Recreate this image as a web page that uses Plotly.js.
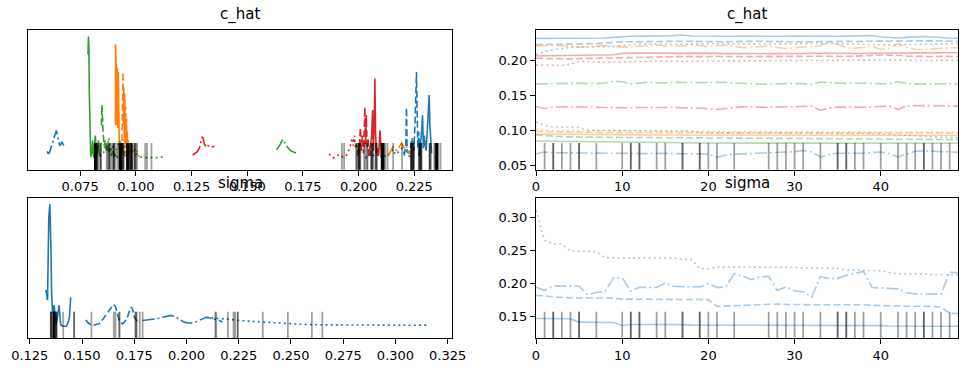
<!DOCTYPE html>
<html><head><meta charset="utf-8">
<script src="https://cdn.plot.ly/plotly-3.0.1.min.js"></script>
<style>html,body{margin:0;padding:0;background:#fff}#chart{width:968px;height:372px}</style>
</head><body><div id="chart"></div>
<script>
// ---------- panel titles ----------
const varNames = ['c_hat', 'sigma'];

// ---------- trace values (50 draws per chain) ----------
// c_hat[0] (blue)
const tr_c0_ch0 = [0.2320,0.2320,0.2318,0.2318,0.2320,0.2320,0.2320,0.2322,0.2325,0.2335,0.2345,0.2350,0.2352,0.2350,0.2352,0.2355,0.2360,0.2368,0.2355,0.2352,0.2350,0.2350,0.2352,0.2350,0.2352,0.2350,0.2352,0.2355,0.2352,0.2350,0.2352,0.2350,0.2352,0.2350,0.2352,0.2350,0.2352,0.2355,0.2358,0.2362,0.2340,0.2330,0.2325,0.2335,0.2345,0.2348,0.2340,0.2330,0.2325,0.2322];
const tr_c0_ch1 = [0.2230,0.2232,0.2235,0.2235,0.2235,0.2238,0.2240,0.2245,0.2255,0.2265,0.2270,0.2272,0.2275,0.2275,0.2278,0.2275,0.2278,0.2280,0.2278,0.2275,0.2272,0.2270,0.2272,0.2275,0.2278,0.2282,0.2280,0.2275,0.2272,0.2270,0.2268,0.2270,0.2272,0.2275,0.2278,0.2280,0.2278,0.2275,0.2280,0.2285,0.2282,0.2280,0.2278,0.2282,0.2285,0.2288,0.2285,0.2282,0.2280,0.2278];
const tr_c0_ch2 = [0.2085,0.2130,0.2155,0.2175,0.2190,0.2195,0.2195,0.2198,0.2200,0.2205,0.2220,0.2235,0.2240,0.2240,0.2238,0.2240,0.2242,0.2240,0.2238,0.2240,0.2245,0.2248,0.2245,0.2242,0.2240,0.2238,0.2235,0.2238,0.2240,0.2242,0.2245,0.2248,0.2250,0.2252,0.2250,0.2245,0.2240,0.2235,0.2232,0.2230,0.2228,0.2225,0.2228,0.2232,0.2235,0.2238,0.2240,0.2242,0.2245,0.2245];
const tr_c0_ch3 = [0.0665,0.0690,0.0680,0.0678,0.0680,0.0675,0.0672,0.0670,0.0672,0.0668,0.0665,0.0668,0.0670,0.0668,0.0672,0.0670,0.0668,0.0670,0.0668,0.0665,0.0660,0.0618,0.0645,0.0660,0.0665,0.0668,0.0670,0.0672,0.0675,0.0680,0.0695,0.0712,0.0690,0.0620,0.0655,0.0672,0.0670,0.0668,0.0672,0.0685,0.0690,0.0670,0.0620,0.0660,0.0702,0.0705,0.0700,0.0698,0.0690,0.0688];
// c_hat[1] (orange)
const tr_c1_ch0 = [0.0950,0.0948,0.0946,0.0945,0.0944,0.0943,0.0942,0.0941,0.0940,0.0939,0.0938,0.0937,0.0936,0.0935,0.0935,0.0934,0.0934,0.0933,0.0933,0.0932,0.0932,0.0931,0.0931,0.0931,0.0930,0.0930,0.0930,0.0930,0.0930,0.0929,0.0929,0.0929,0.0929,0.0929,0.0929,0.0928,0.0928,0.0928,0.0928,0.0928,0.0928,0.0928,0.0927,0.0927,0.0927,0.0927,0.0927,0.0927,0.0927,0.0927];
const tr_c1_ch1 = [0.0985,0.0982,0.0980,0.0978,0.0976,0.0975,0.0974,0.0973,0.0972,0.0971,0.0970,0.0970,0.0969,0.0969,0.0968,0.0968,0.0967,0.0967,0.0966,0.0966,0.0966,0.0965,0.0965,0.0965,0.0964,0.0964,0.0964,0.0964,0.0964,0.0963,0.0963,0.0963,0.0963,0.0963,0.0963,0.0963,0.0963,0.0962,0.0962,0.0962,0.0962,0.0962,0.0962,0.0962,0.0962,0.0962,0.0962,0.0962,0.0962,0.0962];
const tr_c1_ch2 = [0.1015,0.1005,0.1000,0.0998,0.0997,0.0996,0.0996,0.0996,0.0995,0.0995,0.0995,0.0995,0.0994,0.0994,0.0994,0.0994,0.0993,0.0993,0.0993,0.0986,0.0985,0.0984,0.0984,0.0983,0.0983,0.0983,0.0982,0.0982,0.0982,0.0981,0.0981,0.0981,0.0980,0.0980,0.0980,0.0980,0.0979,0.0979,0.0979,0.0979,0.0978,0.0978,0.0978,0.0978,0.0978,0.0977,0.0977,0.0977,0.0977,0.0977];
const tr_c1_ch3 = [0.2210,0.2220,0.2220,0.2215,0.2205,0.2195,0.2200,0.2215,0.2220,0.2210,0.2195,0.2200,0.2205,0.2220,0.2225,0.2210,0.2205,0.2210,0.2225,0.2220,0.2200,0.2215,0.2225,0.2205,0.2185,0.2195,0.2200,0.2210,0.2190,0.2175,0.2185,0.2200,0.2205,0.2215,0.2265,0.2235,0.2190,0.2180,0.2195,0.2200,0.2165,0.2180,0.2245,0.2195,0.2165,0.2160,0.2170,0.2180,0.2185,0.2185];
// c_hat[2] (green)
const tr_c2_ch0 = [0.0848,0.0846,0.0845,0.0843,0.0842,0.0840,0.0838,0.0836,0.0834,0.0832,0.0830,0.0828,0.0826,0.0824,0.0822,0.0821,0.0820,0.0820,0.0819,0.0819,0.0819,0.0818,0.0818,0.0818,0.0818,0.0818,0.0818,0.0818,0.0818,0.0818,0.0818,0.0818,0.0818,0.0818,0.0818,0.0818,0.0818,0.0818,0.0818,0.0818,0.0818,0.0817,0.0817,0.0817,0.0817,0.0816,0.0816,0.0816,0.0816,0.0816];
const tr_c2_ch1 = [0.0935,0.0925,0.0918,0.0912,0.0908,0.0905,0.0903,0.0902,0.0900,0.0900,0.0899,0.0899,0.0898,0.0898,0.0898,0.0897,0.0897,0.0896,0.0895,0.0890,0.0886,0.0885,0.0885,0.0884,0.0884,0.0884,0.0883,0.0883,0.0883,0.0883,0.0882,0.0882,0.0882,0.0882,0.0881,0.0881,0.0881,0.0880,0.0880,0.0880,0.0879,0.0878,0.0876,0.0874,0.0872,0.0871,0.0870,0.0869,0.0869,0.0868];
const tr_c2_ch2 = [0.1120,0.1070,0.1050,0.1045,0.1044,0.1042,0.1005,0.1002,0.1000,0.0999,0.0998,0.0998,0.0997,0.0997,0.0996,0.0996,0.0995,0.0995,0.0994,0.0970,0.0966,0.0965,0.0965,0.0964,0.0964,0.0964,0.0963,0.0963,0.0963,0.0962,0.0962,0.0962,0.0961,0.0961,0.0960,0.0960,0.0960,0.0959,0.0958,0.0956,0.0952,0.0945,0.0935,0.0925,0.0915,0.0908,0.0905,0.0902,0.0900,0.0898];
const tr_c2_ch3 = [0.1665,0.1668,0.1670,0.1672,0.1675,0.1678,0.1672,0.1670,0.1680,0.1705,0.1698,0.1665,0.1680,0.1690,0.1685,0.1682,0.1690,0.1692,0.1688,0.1685,0.1685,0.1690,0.1692,0.1680,0.1675,0.1672,0.1668,0.1660,0.1670,0.1672,0.1665,0.1672,0.1660,0.1695,0.1685,0.1678,0.1675,0.1680,0.1678,0.1675,0.1672,0.1668,0.1698,0.1672,0.1668,0.1665,0.1668,0.1670,0.1670,0.1668];
// c_hat[3] (red)
const tr_c3_ch0 = [0.2068,0.2070,0.2072,0.2075,0.2078,0.2080,0.2080,0.2082,0.2080,0.2085,0.2105,0.2112,0.2110,0.2108,0.2105,0.2102,0.2100,0.2105,0.2108,0.2110,0.2108,0.2105,0.2102,0.2105,0.2108,0.2106,0.2104,0.2102,0.2105,0.2108,0.2106,0.2104,0.2106,0.2108,0.2110,0.2108,0.2106,0.2104,0.2106,0.2110,0.2115,0.2118,0.2120,0.2118,0.2115,0.2112,0.2110,0.2112,0.2115,0.2115];
const tr_c3_ch1 = [0.2035,0.2030,0.2025,0.2022,0.2025,0.2030,0.2032,0.2030,0.2032,0.2035,0.2035,0.2038,0.2040,0.2045,0.2050,0.2055,0.2058,0.2058,0.2060,0.2058,0.2058,0.2060,0.2058,0.2056,0.2058,0.2060,0.2062,0.2060,0.2058,0.2056,0.2058,0.2060,0.2062,0.2064,0.2062,0.2060,0.2062,0.2065,0.2070,0.2078,0.2082,0.2080,0.2078,0.2065,0.2060,0.2058,0.2060,0.2062,0.2060,0.2060];
const tr_c3_ch2 = [0.1940,0.1935,0.1925,0.1930,0.1950,0.1990,0.1985,0.1975,0.1975,0.1980,0.1985,0.1988,0.1988,0.1990,0.1992,0.1990,0.1988,0.1990,0.1992,0.1995,0.1995,0.1998,0.2000,0.2000,0.1998,0.2000,0.2002,0.2000,0.1998,0.2000,0.2002,0.2005,0.2005,0.2002,0.2000,0.2002,0.2005,0.2008,0.2010,0.2012,0.2015,0.2012,0.2010,0.2005,0.2002,0.2000,0.2002,0.2005,0.2005,0.2005];
const tr_c3_ch3 = [0.1340,0.1315,0.1335,0.1340,0.1338,0.1335,0.1332,0.1330,0.1328,0.1325,0.1322,0.1325,0.1328,0.1330,0.1332,0.1330,0.1328,0.1325,0.1322,0.1320,0.1315,0.1302,0.1320,0.1330,0.1338,0.1340,0.1335,0.1332,0.1335,0.1338,0.1340,0.1345,0.1348,0.1290,0.1320,0.1335,0.1338,0.1335,0.1332,0.1340,0.1352,0.1350,0.1300,0.1352,0.1358,0.1358,0.1355,0.1352,0.1350,0.1348];
// sigma
const tr_s_ch0 = [0.1465,0.1465,0.1465,0.1463,0.1462,0.1410,0.1410,0.1410,0.1412,0.1405,0.1360,0.1375,0.1375,0.1375,0.1378,0.1378,0.1378,0.1372,0.1365,0.1365,0.1365,0.1365,0.1365,0.1365,0.1365,0.1365,0.1365,0.1365,0.1365,0.1365,0.1365,0.1365,0.1365,0.1365,0.1365,0.1365,0.1365,0.1365,0.1365,0.1362,0.1358,0.1352,0.1352,0.1352,0.1355,0.1352,0.1350,0.1348,0.1348,0.1348];
const tr_s_ch1 = [0.1815,0.1810,0.1790,0.1780,0.1780,0.1778,0.1778,0.1776,0.1775,0.1775,0.1760,0.1760,0.1760,0.1760,0.1760,0.1758,0.1755,0.1755,0.1755,0.1755,0.1752,0.1650,0.1655,0.1670,0.1672,0.1672,0.1675,0.1685,0.1685,0.1680,0.1675,0.1675,0.1675,0.1675,0.1675,0.1675,0.1678,0.1678,0.1675,0.1665,0.1660,0.1660,0.1655,0.1652,0.1652,0.1652,0.1650,0.1635,0.1545,0.1540];
const tr_s_ch2 = [0.3110,0.2650,0.2600,0.2595,0.2490,0.2485,0.2485,0.2480,0.2390,0.2388,0.2388,0.2388,0.2388,0.2388,0.2388,0.2385,0.2380,0.2365,0.2360,0.2225,0.2220,0.2245,0.2248,0.2248,0.2248,0.2246,0.2245,0.2245,0.2245,0.2243,0.2240,0.2232,0.2230,0.2230,0.2228,0.2225,0.2200,0.2198,0.2196,0.2195,0.2192,0.2162,0.2145,0.2145,0.2143,0.2142,0.2140,0.2138,0.2128,0.2125];
const tr_s_ch3 = [0.1940,0.1890,0.1960,0.1960,0.1958,0.1955,0.1825,0.1860,0.1870,0.2085,0.2085,0.1880,0.1940,0.1940,0.1935,0.2005,0.1955,0.1950,0.1950,0.1945,0.1995,0.1935,0.1945,0.2145,0.2110,0.2055,0.2100,0.2105,0.1890,0.1945,0.1885,0.1870,0.1790,0.2105,0.2070,0.2075,0.2120,0.2150,0.2180,0.1935,0.1930,0.1930,0.1915,0.1855,0.1840,0.1838,0.1838,0.1835,0.2170,0.2155];

// ---------- divergent draws per chain ----------
const div_ch0 = [3,4,5,10,11,12,14,15,17,19,20,23,28,30,33,35,36,38,42,44,45,46];
const div_ch1 = [2,7,11,12,19,29,36,40,43,48];
const div_ch2 = [1,2,5,17,21,27,31,35,37,45,47];
const div_ch3 = [];

// ---------- per-chain KDE curves [value, density] ----------
const kde_c0_ch0 = [[0.2270,6],[0.2277,14],[0.2283,25],[0.2287,38],[0.2291,12],[0.2295,22],[0.2298,16],[0.2303,10],[0.2308,25],[0.2313,40],[0.2317,54],[0.2320,30],[0.2324,12],[0.2328,8]];
const kde_c0_ch1 = [[0.2205,6],[0.2212,15],[0.2215,44],[0.2218,10],[0.2225,8],[0.2232,12],[0.2240,20],[0.2248,10],[0.2253,30],[0.2257,50],[0.2260,72],[0.2263,40],[0.2266,12],[0.2270,25],[0.2274,8],[0.2280,6]];
const kde_c0_ch2 = [[0.2030,4],[0.2045,7],[0.2060,5],[0.2075,8],[0.2096,5],[0.2110,7],[0.2125,5],[0.2140,8],[0.2155,11],[0.2165,7],[0.2180,9],[0.2195,12],[0.2205,8],[0.2215,10],[0.2225,6],[0.2235,4.5]];
const kde_c0_ch3 = [[0.0602,9.5],[0.0607,7.4],[0.0613,9],[0.0620,13],[0.0628,18],[0.0636,23],[0.0643,26],[0.0648,22],[0.0653,17],[0.0658,14],[0.0663,15],[0.0668,17],[0.0673,15],[0.0680,13.5]];
const kde_c1_ch0 = [[0.0908,30],[0.0909,94],[0.0911,78],[0.0913,76],[0.0915,30],[0.0917,75],[0.0919,28],[0.0921,72],[0.0923,25],[0.0926,10],[0.0930,18],[0.0934,8],[0.0938,14],[0.0943,6],[0.0948,9],[0.0953,5]];
const kde_c1_ch1 = [[0.0937,10],[0.0940,40],[0.0942,72],[0.0944,30],[0.0946,60],[0.0948,20],[0.0950,55],[0.0952,15],[0.0954,45],[0.0956,12],[0.0958,35],[0.0960,10],[0.0962,25],[0.0964,8],[0.0966,16],[0.0969,6],[0.0972,10],[0.0976,5]];
const kde_c1_ch2 = [[0.0915,8],[0.0925,15],[0.0935,10],[0.0945,20],[0.0955,12],[0.0965,18],[0.0975,8],[0.0985,14],[0.0995,6],[0.1005,10],[0.1015,5]];
const kde_c1_ch3 = [[0.2133,6],[0.2142,9],[0.2150,12],[0.2155,13.5],[0.2163,11],[0.2172,10],[0.2180,12],[0.2188,15],[0.2193,16],[0.2200,14],[0.2208,11],[0.2215,13],[0.2222,10],[0.2230,7]];
const kde_c2_ch0 = [[0.0785,86],[0.0787,100],[0.0789,92],[0.0791,55],[0.0794,20],[0.0797,8],[0.0800,5],[0.0803,10],[0.0806,18],[0.0809,8],[0.0812,4],[0.0815,14],[0.0818,22],[0.0821,12],[0.0824,6],[0.0828,12],[0.0832,18],[0.0836,8],[0.0840,5]];
const kde_c2_ch1 = [[0.0845,30],[0.0848,46],[0.0852,28],[0.0857,14],[0.0862,18],[0.0867,10],[0.0872,14],[0.0878,8],[0.0884,12],[0.0890,6],[0.0896,10],[0.0903,5],[0.0910,8],[0.0918,4]];
const kde_c2_ch2 = [[0.0855,8],[0.0862,16],[0.0870,10],[0.0878,20],[0.0886,9],[0.0895,14],[0.0905,6],[0.0915,12],[0.0925,18],[0.0935,8],[0.0945,14],[0.0955,6],[0.0965,10],[0.0978,8],[0.0990,12],[0.1005,7],[0.1020,5],[0.1040,4.5],[0.1060,4.5],[0.1080,4],[0.1100,4.5],[0.1115,5],[0.1129,4.5]];
const kde_c2_ch3 = [[0.1632,10.6],[0.1640,12.5],[0.1648,15],[0.1655,17.5],[0.1660,19],[0.1666,17],[0.1675,14],[0.1685,12],[0.1695,10],[0.1708,9],[0.1722,8]];
const kde_c3_ch0 = [[0.2045,6],[0.2052,12],[0.2058,20],[0.2063,42],[0.2066,10],[0.2070,30],[0.2073,67],[0.2076,25],[0.2080,8],[0.2085,12],[0.2090,6],[0.2096,26],[0.2099,10],[0.2103,4]];
const kde_c3_ch1 = [[0.1995,6],[0.2003,12],[0.2008,28],[0.2012,10],[0.2017,22],[0.2022,8],[0.2026,30],[0.2028,44],[0.2031,15],[0.2035,38],[0.2038,12],[0.2042,20],[0.2047,6],[0.2052,10],[0.2058,4]];
const kde_c3_ch2 = [[0.1867,7.4],[0.1876,5.5],[0.1886,4.3],[0.1900,6],[0.1916,7],[0.1930,5],[0.1943,5.6],[0.1952,9],[0.1961,12],[0.1966,17],[0.1971,20],[0.1976,14],[0.1981,22],[0.1986,12],[0.1991,16],[0.1996,8],[0.2001,12],[0.2006,6]];
const kde_c3_ch3 = [[0.1255,6.6],[0.1265,7.5],[0.1275,9],[0.1285,12],[0.1292,17],[0.1298,21],[0.1303,19],[0.1308,15],[0.1315,13],[0.1322,14.5],[0.1330,13],[0.1340,13],[0.1352,13.2]];
const kde_s_ch0 = [[0.1327,33],[0.1335,25],[0.1341,90],[0.1346,100.5],[0.1352,60],[0.1354,33],[0.1359,15],[0.1367,21],[0.1375,5.5],[0.1383,12],[0.1390,21],[0.1398,5.5],[0.1410,4.5],[0.1425,4.5],[0.1435,8],[0.1440,12],[0.1446,27]];
const kde_s_ch1 = [[0.1518,9.4],[0.1530,7],[0.1550,5],[0.1565,5.5],[0.1582,6.5],[0.1600,10],[0.1617,14],[0.1635,18],[0.1650,21.5],[0.1660,20],[0.1670,13],[0.1678,9],[0.1694,6.3],[0.1705,8],[0.1718,12],[0.1730,18],[0.1737,19.6],[0.1745,16],[0.1752,11],[0.1761,8.8],[0.1770,9],[0.1780,9.5]];
const kde_s_ch2 = [[0.2094,11.4],[0.2130,11],[0.2158,10.6],[0.2200,10],[0.2250,9],[0.2317,8.2],[0.2400,7.3],[0.2477,6.6],[0.2550,6],[0.2637,5.6],[0.2720,5.4],[0.2797,5.3],[0.2900,5.3],[0.3000,5.3],[0.3100,5.3],[0.3161,5.4]];
const kde_s_ch3 = [[0.1790,9],[0.1815,9.5],[0.1838,10],[0.1860,10.5],[0.1886,11.5],[0.1910,12.5],[0.1926,13],[0.1945,12],[0.1966,9.7],[0.1985,8],[0.2006,7],[0.2025,7],[0.2046,8],[0.2070,9.5],[0.2094,11.5],[0.2115,11],[0.2141,9.5],[0.2160,8.5],[0.2173,8]];

// ---------- assembly ----------
const COLORS = ['#1f77b4', '#ff7f0e', '#2ca02c', '#d62728'];
const DASHES = ['solid', '7px,3px', '2px,3.2px', '12px,3px,2px,3px'];
const FONT = 'DejaVu Sans, Arial, sans-serif';

const chatTraces = [
  [tr_c0_ch0, tr_c0_ch1, tr_c0_ch2, tr_c0_ch3],
  [tr_c1_ch0, tr_c1_ch1, tr_c1_ch2, tr_c1_ch3],
  [tr_c2_ch0, tr_c2_ch1, tr_c2_ch2, tr_c2_ch3],
  [tr_c3_ch0, tr_c3_ch1, tr_c3_ch2, tr_c3_ch3]
];
const chatKde = [
  [kde_c0_ch0, kde_c0_ch1, kde_c0_ch2, kde_c0_ch3],
  [kde_c1_ch0, kde_c1_ch1, kde_c1_ch2, kde_c1_ch3],
  [kde_c2_ch0, kde_c2_ch1, kde_c2_ch2, kde_c2_ch3],
  [kde_c3_ch0, kde_c3_ch1, kde_c3_ch2, kde_c3_ch3]
];
const sigmaTraces = [tr_s_ch0, tr_s_ch1, tr_s_ch2, tr_s_ch3];
const sigmaKde = [kde_s_ch0, kde_s_ch1, kde_s_ch2, kde_s_ch3];
const divs = [div_ch0, div_ch1, div_ch2, div_ch3];
const draws = tr_c0_ch0.map((_, i) => i);

// axis ranges (layout)
const R = {
  x1: [0.0517, 0.2418], y1: [-5, 105],
  x2: [0, 49], y2: [0.0437, 0.2436],
  x3: [0.1243, 0.3269], y3: [-5, 105],
  x4: [0, 49], y4: [0.1165, 0.329]
};
const rugLevel = r => r[0] + 0.0455 * (r[1] - r[0]);

const data = [];
function kdeLine(pts, color, dash, xa, ya) {
  data.push({type: 'scatter', mode: 'lines', x: pts.map(p => p[0]), y: pts.map(p => p[1]),
    xaxis: xa, yaxis: ya, line: {color: color, dash: dash, width: 1.6}, hoverinfo: 'skip'});
}
function traceLine(vals, color, dash, xa, ya) {
  data.push({type: 'scatter', mode: 'lines', x: draws, y: vals, xaxis: xa, yaxis: ya,
    opacity: 0.38, line: {color: color, dash: dash, width: 1.6}, hoverinfo: 'skip'});
}
function rug(xs, ys, xa, ya) {
  data.push({type: 'scatter', mode: 'markers', x: xs, y: ys, xaxis: xa, yaxis: ya, cliponaxis: true,
    marker: {symbol: 'line-ns', size: 29, color: 'rgba(0,0,0,0.37)', line: {color: 'rgba(0,0,0,0.37)', width: 1.8}},
    hoverinfo: 'skip'});
}

// c_hat
for (let c = 0; c < 4; c++) {
  for (let k = 0; k < 4; k++) {
    kdeLine(chatKde[c][k], COLORS[c], DASHES[k], 'x', 'y');
    traceLine(chatTraces[c][k], COLORS[c], DASHES[k], 'x2', 'y2');
  }
}
// sigma
for (let k = 0; k < 4; k++) {
  kdeLine(sigmaKde[k], COLORS[0], DASHES[k], 'x3', 'y3');
  traceLine(sigmaTraces[k], COLORS[0], DASHES[k], 'x4', 'y4');
}
// divergences
{
  const xs1 = [], ys1 = [], xs2 = [], ys2 = [], xs3 = [], ys3 = [], xs4 = [], ys4 = [];
  divs.forEach((dl, k) => dl.forEach(d => {
    for (let c = 0; c < 4; c++) { xs1.push(chatTraces[c][k][d]); ys1.push(0); }
    xs2.push(d); ys2.push(rugLevel(R.y2));
    xs3.push(sigmaTraces[k][d]); ys3.push(0);
    xs4.push(d); ys4.push(rugLevel(R.y4));
  }));
  rug(xs1, ys1, 'x', 'y'); rug(xs2, ys2, 'x2', 'y2');
  rug(xs3, ys3, 'x3', 'y3'); rug(xs4, ys4, 'x4', 'y4');
}

const W = 968, H = 372;
const dxL = [28.3 / W, 451.7 / W], dxR = [536 / W, 958.3 / W];
const dyT = [(H - 169.7) / H, (H - 30.3) / H], dyB = [(H - 338.3) / H, (H - 198.3) / H];

const base = {showline: true, mirror: true, linecolor: '#000', linewidth: 1, showgrid: false, zeroline: false,
  ticks: 'outside', ticklen: 5, tickwidth: 1, tickcolor: '#000',
  tickfont: {family: FONT, size: 13, color: '#000'}, fixedrange: true};
const noY = Object.assign({}, base, {ticks: '', showticklabels: false});

const layout = {
  width: W, height: H, margin: {l: 0, r: 0, t: 0, b: 0}, showlegend: false,
  paper_bgcolor: '#fff', plot_bgcolor: '#fff',
  xaxis: Object.assign({}, base, {domain: dxL, anchor: 'y', range: R.x1, tick0: 0, dtick: 0.025, tickformat: '.3f'}),
  yaxis: Object.assign({}, noY, {domain: dyT, anchor: 'x', range: R.y1}),
  xaxis2: Object.assign({}, base, {domain: dxR, anchor: 'y2', range: R.x2, tick0: 0, dtick: 10}),
  yaxis2: Object.assign({}, base, {domain: dyT, anchor: 'x2', range: R.y2, tick0: 0, dtick: 0.05, tickformat: '.2f'}),
  xaxis3: Object.assign({}, base, {domain: dxL, anchor: 'y3', range: R.x3, tick0: 0, dtick: 0.025, tickformat: '.3f'}),
  yaxis3: Object.assign({}, noY, {domain: dyB, anchor: 'x3', range: R.y3}),
  xaxis4: Object.assign({}, base, {domain: dxR, anchor: 'y4', range: R.x4, tick0: 0, dtick: 10}),
  yaxis4: Object.assign({}, base, {domain: dyB, anchor: 'x4', range: R.y4, tick0: 0, dtick: 0.05, tickformat: '.2f'}),
  annotations: [
    [dxL, dyT, varNames[0]], [dxR, dyT, varNames[0]], [dxL, dyB, varNames[1]], [dxR, dyB, varNames[1]]
  ].map(([dx, dy, t]) => ({text: t, xref: 'paper', yref: 'paper', x: (dx[0] + dx[1]) / 2, y: dy[1],
    xanchor: 'center', yanchor: 'bottom', yshift: 4, showarrow: false,
    font: {family: FONT, size: 15, color: '#000'}}))
};

Plotly.newPlot('chart', data, layout, {staticPlot: true, displayModeBar: false});
</script></body></html>
